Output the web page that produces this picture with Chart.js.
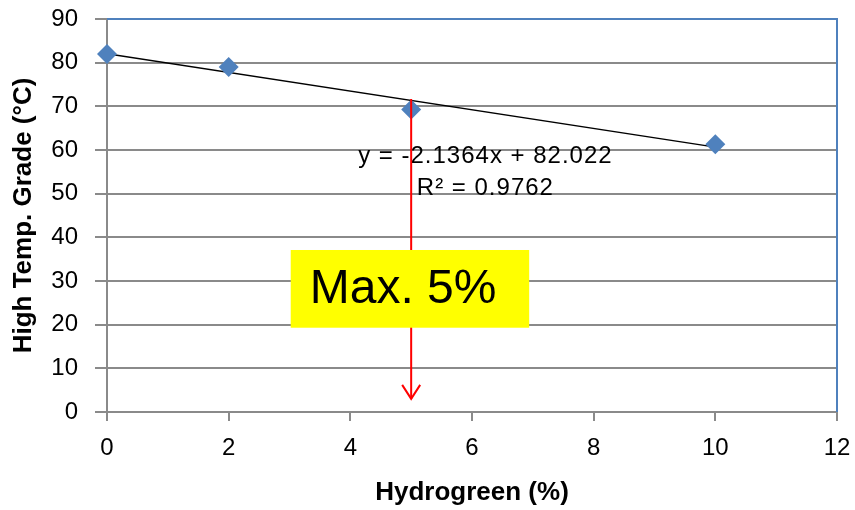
<!DOCTYPE html>
<html><head><meta charset="utf-8">
<script src="https://cdn.jsdelivr.net/npm/chart.js@4/dist/chart.umd.min.js"></script>
<style>html,body{margin:0;padding:0;background:#fff}#wrap{width:855px;height:510px}</style>
</head><body><div id="wrap"><canvas id="c" width="855" height="510"></canvas></div>
<script>
const hydrogreen = [0, 2, 5, 10];
const highTempGrade = [82.0, 79.0, 69.3, 61.3];
const trendX = [0, 10];
const trendY = [82.022, 60.658];
const arrowX = [5, 5];
const arrowY = [71.7, 3.0];
const equationText = ["y = -2.1364x + 82.022", "R\u00b2 = 0.9762"];
const calloutText = "Max. 5%";
const xTicks = [0, 2, 4, 6, 8, 10, 12];
const yTicks = [0, 10, 20, 30, 40, 50, 60, 70, 80, 90];

const FONT = "'Liberation Sans', Arial, sans-serif";
const gridGray = '#8a8a8a';

const overlay = {
  id: 'overlay',
  beforeDatasetsDraw(chart) {
    const {ctx, chartArea: a} = chart;
    ctx.save();
    ctx.strokeStyle = '#4f81bd';
    ctx.lineWidth = 2;
    ctx.beginPath();
    ctx.moveTo(a.left, a.top);
    ctx.lineTo(a.right, a.top);
    ctx.lineTo(a.right, a.bottom);
    ctx.stroke();
    ctx.restore();
  },
  afterDatasetsDraw(chart) {
    const {ctx, scales: {x, y}} = chart;
    ctx.save();
    const tx = x.getPixelForValue(arrowX[1]);
    const ty = y.getPixelForValue(arrowY[1]);
    // equation
    ctx.fillStyle = '#000';
    ctx.font = "24px " + FONT;
    try { ctx.letterSpacing = '1px'; } catch (e) {}
    ctx.textAlign = 'center';
    ctx.textBaseline = 'middle';
    const ex = x.getPixelForValue(6.22);
    ctx.fillText(equationText[0], ex, y.getPixelForValue(58.6));
    ctx.fillText(equationText[1], ex, y.getPixelForValue(51.3));
    try { ctx.letterSpacing = '0px'; } catch (e) {}
    // arrow line + head
    ctx.strokeStyle = '#ff0000';
    ctx.lineWidth = 2;
    ctx.beginPath();
    ctx.moveTo(tx, y.getPixelForValue(arrowY[0]));
    ctx.lineTo(tx, ty);
    ctx.stroke();
    ctx.beginPath();
    ctx.moveTo(tx - 9, ty - 14);
    ctx.lineTo(tx, ty);
    ctx.lineTo(tx + 9, ty - 14);
    ctx.stroke();
    // callout box on top of the arrow
    const bx0 = x.getPixelForValue(3.02), bx1 = x.getPixelForValue(6.94);
    const by0 = y.getPixelForValue(37.1), by1 = y.getPixelForValue(19.3);
    ctx.fillStyle = '#ffff00';
    ctx.fillRect(bx0, by0, bx1 - bx0, by1 - by0);
    ctx.fillStyle = '#000';
    ctx.font = "48px " + FONT;
    ctx.textAlign = 'left';
    ctx.textBaseline = 'alphabetic';
    ctx.fillText(calloutText, bx0 + 19, by0 + 53);
    ctx.restore();
  }
};

new Chart(document.getElementById('c'), {
  type: 'scatter',
  data: {
    datasets: [
      {
        label: 'Trend',
        type: 'line',
        data: trendX.map((v, i) => ({x: v, y: trendY[i]})),
        borderColor: '#000',
        borderWidth: 1.5,
        pointRadius: 0,
        fill: false,
        order: 1
      },
      {
        label: 'High Temp. Grade',
        data: hydrogreen.map((v, i) => ({x: v, y: highTempGrade[i]})),
        pointStyle: 'rectRot',
        pointRadius: 10,
        backgroundColor: '#4f81bd',
        borderColor: '#4f81bd',
        borderWidth: 0,
        clip: false,
        order: 0
      }
    ]
  },
  options: {
    responsive: false,
    animation: false,
    events: [],
    layout: {padding: {left: 0, right: 18, top: 19, bottom: 2}},
    plugins: {legend: {display: false}, tooltip: {enabled: false}},
    scales: {
      x: {
        type: 'linear', min: 0, max: 12,
        afterBuildTicks(s) { s.ticks = xTicks.map(v => ({value: v})); },
        afterFit(s) { s.height = 96; s.paddingLeft = 0; s.paddingRight = 0; },
        grid: {drawOnChartArea: false, drawTicks: true, tickLength: 9, color: gridGray, lineWidth: 2},
        border: {color: gridGray, width: 2},
        ticks: {color: '#000', font: {family: FONT, size: 24}, padding: 13, maxRotation: 0},
        title: {display: true, text: 'Hydrogreen (%)', color: '#000', font: {family: FONT, size: 26, weight: 'bold'}, padding: {top: 0, bottom: 0}}
      },
      y: {
        type: 'linear', min: 0, max: 90,
        afterBuildTicks(s) { s.ticks = yTicks.map(v => ({value: v})); },
        afterFit(s) { s.width = 107; s.paddingTop = 0; s.paddingBottom = 0; },
        grid: {color: gridGray, lineWidth: 2, tickLength: 12},
        border: {color: gridGray, width: 2},
        ticks: {color: '#000', font: {family: FONT, size: 24}, padding: 17},
        title: {display: true, text: 'High Temp. Grade (\u00b0C)', color: '#000', font: {family: FONT, size: 26, weight: 'bold'}, padding: {top: 8, bottom: 0}}
      }
    }
  },
  plugins: [overlay]
});
</script>
</body></html>
